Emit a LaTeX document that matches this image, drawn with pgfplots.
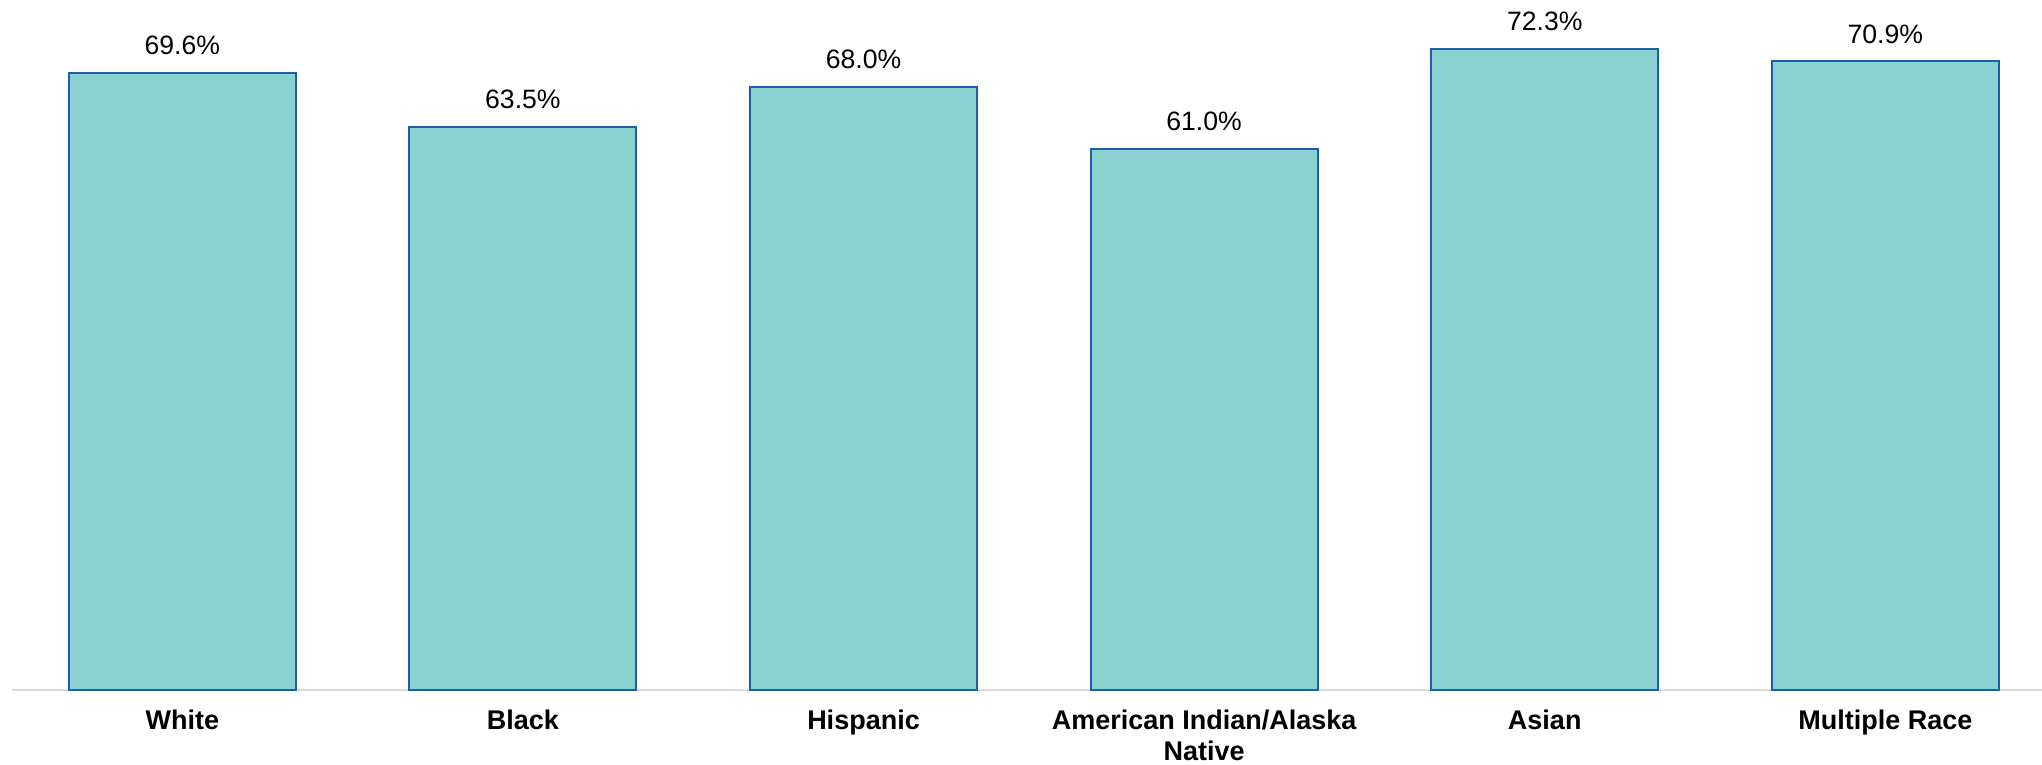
\documentclass[border=0pt]{standalone}
\usepackage{pgfplots}
\pgfplotsset{compat=1.18}
\usepackage{fontspec}
\setmainfont{Liberation Sans}
\definecolor{barfill}{RGB}{138,209,207}
\definecolor{baredge}{RGB}{28,94,170}
\definecolor{axisgray}{RGB}{217,217,217}
\begin{document}
\begin{tikzpicture}
\begin{axis}[
  scale only axis,
  width=1015pt, height=345pt,
  xmin=-0.5, xmax=5.46,
  ymin=0, ymax=77.8,
  axis x line*=bottom,
  axis y line=none,
  x axis line style={-, draw=axisgray, line width=1.3pt},
  ytick=\empty,
  xtick=data,
  xticklabels={White,Black,Hispanic,{American Indian/Alaska\\Native},Asian,Multiple Race},
  major tick length=0pt,
  xticklabel style={font=\fontsize{13.5}{15.5}\selectfont\bfseries, align=center, anchor=north, inner sep=0pt, yshift=-10pt},
  /pgf/number format/assume math mode=true,
  clip=false,
  ybar,
  bar width=113.5pt,
  nodes near coords={\pgfmathprintnumber[fixed,zerofill,precision=1]{\pgfplotspointmeta}\%},
  nodes near coords style={font=\fontsize{13.3}{15}\selectfont, anchor=base, yshift=9pt, inner sep=0pt},
]
\addplot[fill=barfill, draw=baredge, line width=1pt] coordinates {(0,69.6) (1,63.5) (2,68.0) (3,61.0) (4,72.3) (5,70.9)};
\end{axis}
\pgfresetboundingbox
\path (current axis.south west) ++(-6pt,-37pt) rectangle (current axis.north east);
\end{tikzpicture}
\end{document}
